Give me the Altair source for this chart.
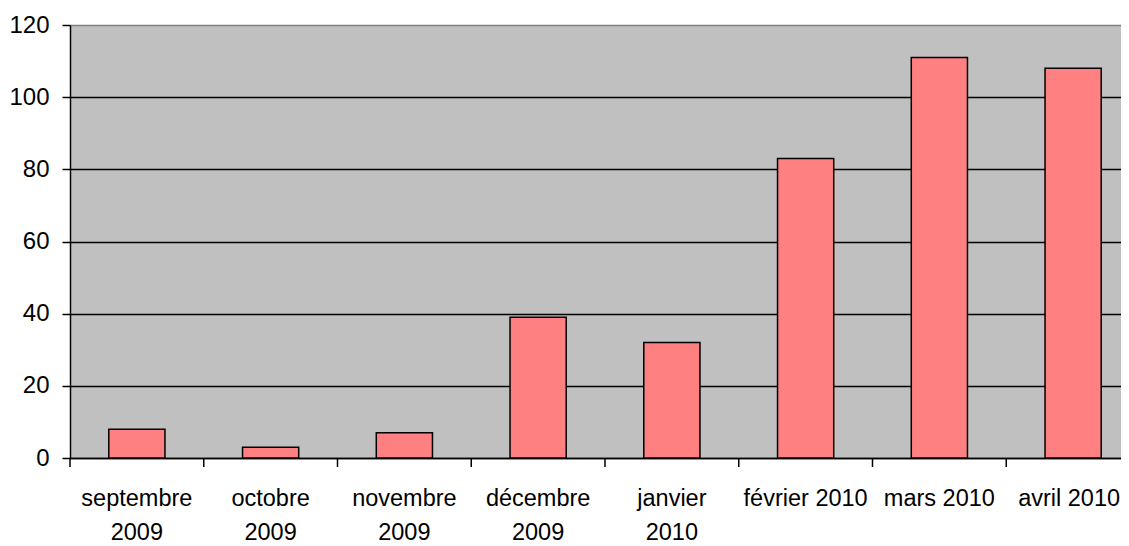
import altair as alt
import pandas as pd

months = ["septembre|2009", "octobre|2009", "novembre|2009", "décembre|2009",
          "janvier|2010", "février 2010", "mars 2010", "avril 2010"]
values = [8, 3, 7, 39, 32, 83, 111, 108]
y_ticks = [0, 20, 40, 60, 80, 100, 120]

df = pd.DataFrame({"month": months, "value": values})

FONT = "Liberation Sans"

x_scale = alt.Scale(domain=months, paddingInner=0, paddingOuter=0)
y_scale = alt.Scale(domain=[0, 120], nice=False)

bars = alt.Chart(df).mark_bar(
    width=alt.RelativeBandSize(0.42), fill="#FF8080", stroke="black", strokeWidth=1.5
).encode(
    x=alt.X("month:N", scale=x_scale, sort=months, title=None,
            axis=alt.Axis(labelAngle=0, ticks=False, domain=True, domainColor="black",
                          domainWidth=1.5, labelFont=FONT, labelFontSize=23.5,
                          labelColor="black", labelPadding=28, labelLineHeight=34,
                          labelOffset={"condition": {"test": "datum.value == 'avril 2010'", "value": -4}, "value": 0},
                          labelExpr="split(datum.label, '|')", labelLimit=200)),
    y=alt.Y("value:Q", scale=y_scale, title=None,
            axis=alt.Axis(values=y_ticks, grid=True,
                          gridColor={"condition": {"test": "datum.value == 120", "value": "#808080"}, "value": "black"},
                          gridWidth=1.5, domain=True, domainColor="black", domainWidth=1.5,
                          ticks=True, tickColor="black", tickSize=8, tickWidth=1.5,
                          labelFont=FONT, labelFontSize=24, labelColor="black",
                          labelPadding=13)),
)

ticks = alt.Chart(df).mark_rule(color="black", strokeWidth=1.5).encode(
    x=alt.X("month:N", scale=x_scale, sort=months, bandPosition=0),
    y=alt.value(433),
    y2=alt.value(442),
)

chart = alt.layer(bars, ticks).properties(
    width=1070, height=433,
    autosize=alt.AutoSizeParams(type="none"),
    padding={"left": 62, "top": 17, "right": -19, "bottom": 88},
    background="white",
).configure_view(fill="#C0C0C0", stroke=None)

chart.save("out.html", embed_options={"renderer": "svg", "actions": False})
